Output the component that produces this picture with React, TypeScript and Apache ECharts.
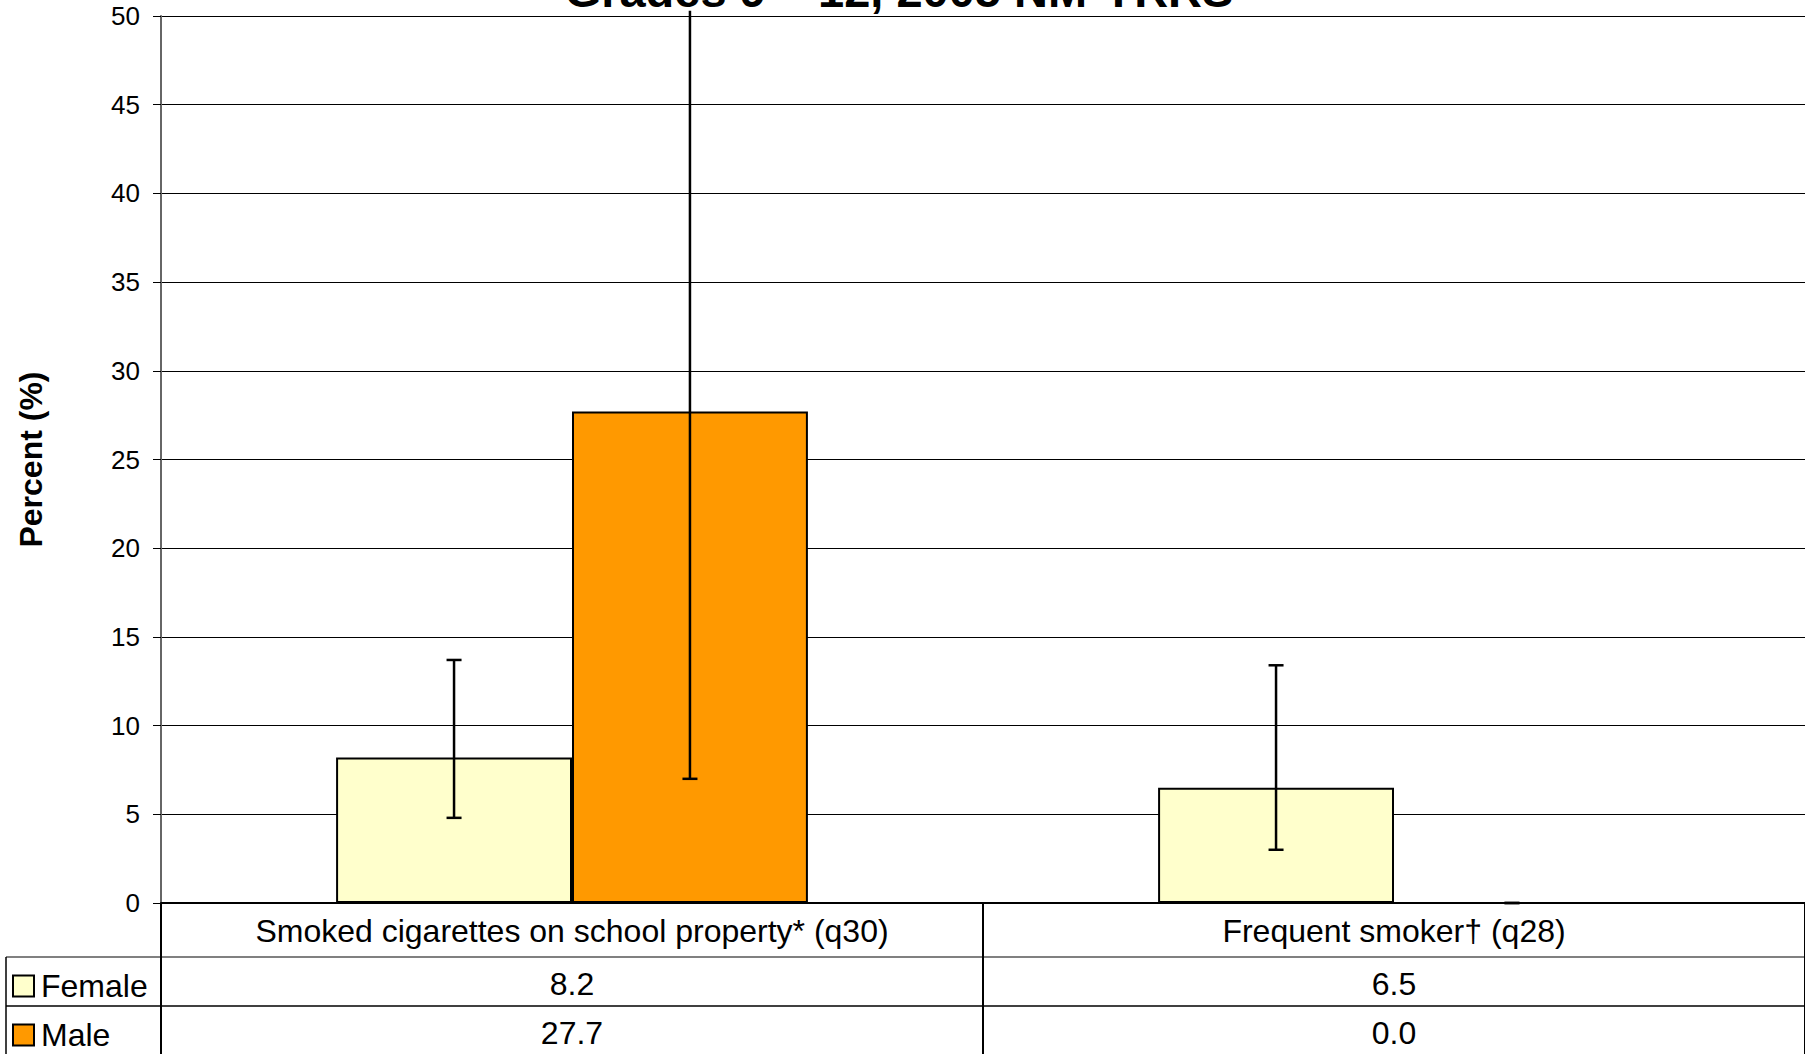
import React, { useEffect, useRef } from "react";
import * as echarts from "echarts";

const categories = ["Smoked cigarettes on school property* (q30)", "Frequent smoker† (q28)"];
const seriesNames = ["Female", "Male"];
const femaleValues = [8.2, 6.5];
const maleValues = [27.7, 0.0];
// confidence intervals [low, high]
const femaleCI = [[4.8, 13.7], [3.0, 13.4]];
const maleCI = [[7.0, 66.0], [0.0, 0.0]];
const yMin = 0;
const yMax = 50;
const yInterval = 5;
const titleText = "Grades 9 – 12, 2005 NM-YRRS";
const yAxisTitle = "Percent (%)";

const FEMALE_COLOR = "#FFFFCC";
const MALE_COLOR = "#FF9900";
const FONT = "'Liberation Sans', Arial, sans-serif";
const GAP = 0.426;

function errorSeries(ci: number[][], sexIndex: number) {
  return {
    type: "custom",
    name: seriesNames[sexIndex] + " CI",
    xAxisIndex: 0,
    yAxisIndex: 0,
    z: 10,
    silent: true,
    encode: { x: 0, y: [1, 2] },
    data: ci.map((c, i) => [i, c[0], c[1]]),
    renderItem: (params: any, api: any) => {
      const idx = api.value(0);
      const low = api.value(1);
      const high = api.value(2);
      const band = api.size([1, 0])[0];
      const barW = (band * (1 - GAP)) / 2;
      const offset = sexIndex === 0 ? -barW / 2 : barW / 2;
      const cx = api.coord([idx, 0])[0] + offset;
      const clipped = high > yMax;
      const yHigh = api.coord([idx, clipped ? yMax + 0.3 : high])[1];
      const yLow = api.coord([idx, low])[1];
      const cap = 7.5;
      const style = { stroke: "#000", lineWidth: 2.5 };
      const children: any[] = [
        { type: "line", shape: { x1: cx, y1: yHigh, x2: cx, y2: yLow }, style },
        { type: "line", shape: { x1: cx - cap, y1: yLow, x2: cx + cap, y2: yLow }, style },
      ];
      if (!clipped) {
        children.push({ type: "line", shape: { x1: cx - cap, y1: yHigh, x2: cx + cap, y2: yHigh }, style });
      }
      return { type: "group", children };
    },
  };
}

export default function App() {
  const ref = useRef<HTMLDivElement>(null);
  useEffect(() => {
    document.body.style.margin = "0";
    if (!ref.current) return;
    const chart = echarts.init(ref.current, null, { renderer: "svg" });
    const W = 1805;
    const H = 1054;
    const gridLeft = 161;
    const gridTop = 16;
    const gridBottom = 151;
    const axisY = H - gridBottom;
    const legendBase = {
      orient: "vertical",
      left: 7,
      itemWidth: 21,
      itemHeight: 21,
      icon: "rect",
      textStyle: { fontSize: 32, color: "#000", fontFamily: FONT, padding: [0, 0, 0, 2] },
      selectedMode: false,
    };
    chart.setOption({
      animation: false,
      backgroundColor: "#fff",
      textStyle: { fontFamily: FONT, color: "#000" },
      grid: { left: gridLeft, right: 0, top: gridTop, bottom: gridBottom, containLabel: false },
      legend: [
        { ...legendBase, data: [seriesNames[0]], top: 965 },
        { ...legendBase, data: [seriesNames[1]], top: 1014 },
      ],
      xAxis: [
        {
          type: "category",
          data: categories,
          position: "bottom",
          axisLine: { show: true, lineStyle: { color: "#000", width: 2 } },
          axisTick: { show: true, length: gridBottom, interval: 0, lineStyle: { color: "#000", width: 2 } },
          axisLabel: { interval: 0, margin: 12, fontSize: 32, color: "#000", fontFamily: FONT },
          splitLine: { show: false },
          z: 5,
        },
        {
          type: "category",
          data: categories,
          position: "bottom",
          offset: 54,
          axisLine: { show: false },
          axisTick: { show: false },
          axisLabel: {
            interval: 0,
            margin: 11,
            fontSize: 32,
            color: "#000",
            fontFamily: FONT,
            formatter: (_v: string, i: number) => femaleValues[i].toFixed(1),
          },
        },
        {
          type: "category",
          data: categories,
          position: "bottom",
          offset: 103,
          axisLine: { show: false },
          axisTick: { show: false },
          axisLabel: {
            interval: 0,
            margin: 11,
            fontSize: 32,
            color: "#000",
            fontFamily: FONT,
            formatter: (_v: string, i: number) => maleValues[i].toFixed(1),
          },
        },
      ],
      yAxis: {
        type: "value",
        min: yMin,
        max: yMax,
        interval: yInterval,
        name: yAxisTitle,
        nameLocation: "middle",
        nameGap: 114,
        nameTextStyle: { fontSize: 32, fontWeight: "bold", color: "#000", fontFamily: FONT },
        axisLine: { show: true, lineStyle: { color: "#666", width: 2 } },
        axisTick: { show: true, length: 8, lineStyle: { color: "#000", width: 1 } },
        axisLabel: { margin: 21, fontSize: 26, color: "#000", fontFamily: FONT },
        splitLine: { show: true, lineStyle: { color: "#000", width: 1 } },
      },
      series: [
        {
          type: "bar",
          name: seriesNames[0],
          data: femaleValues,
          barGap: "0%",
          barCategoryGap: GAP * 100 + "%",
          itemStyle: { color: FEMALE_COLOR, borderColor: "#000", borderWidth: 2 },
        },
        {
          type: "bar",
          name: seriesNames[1],
          data: maleValues,
          barGap: "0%",
          barCategoryGap: GAP * 100 + "%",
          itemStyle: { color: MALE_COLOR, borderColor: "#000", borderWidth: 2 },
        },
        errorSeries(femaleCI, 0),
        errorSeries(maleCI, 1),
      ],
      graphic: [
        {
          type: "text",
          x: 899,
          y: -10,
          silent: true,
          style: {
            text: titleText,
            fontSize: 47,
            fontWeight: "bold",
            fontFamily: FONT,
            fill: "#000",
            align: "center",
            verticalAlign: "middle",
          },
        },
        {
          type: "line",
          silent: true,
          shape: { x1: 6, y1: axisY + 54, x2: W, y2: axisY + 54 },
          style: { stroke: "#808080", lineWidth: 2 },
        },
        {
          type: "line",
          silent: true,
          shape: { x1: 6, y1: axisY + 103, x2: W, y2: axisY + 103 },
          style: { stroke: "#000", lineWidth: 1.5 },
        },
        {
          type: "line",
          silent: true,
          shape: { x1: 6, y1: axisY + 54, x2: 6, y2: H },
          style: { stroke: "#000", lineWidth: 1.5 },
        },
      ],
    });
    return () => chart.dispose();
  }, []);
  return <div ref={ref} style={{ width: 1805, height: 1054 }} />;
}
